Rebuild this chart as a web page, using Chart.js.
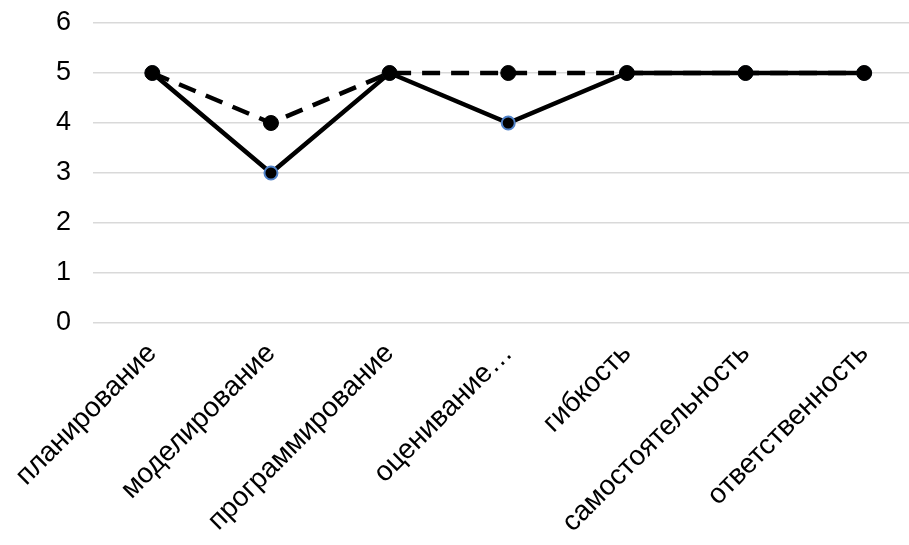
<!DOCTYPE html>
<html>
<head>
<meta charset="utf-8">
<script src="https://cdn.jsdelivr.net/npm/chart.js@4"></script>
<style>
html,body{margin:0;padding:0;background:#fff;overflow:hidden;}
#wrap{width:932px;height:545px;position:relative;}
</style>
</head>
<body>
<div id="wrap"><canvas id="c"></canvas></div>
<script>
const categories = ["планирование","моделирование","программирование","оценивание…","гибкость","самостоятельность","ответственность"];
const solidSeries = [5,3,5,4,5,5,5];
const dashedSeries = [5,4,5,5,5,5,5];
const yTicks = [0,1,2,3,4,5,6];

const FONT = "'Liberation Sans', Arial, sans-serif";

new Chart(document.getElementById('c'), {
  type: 'line',
  data: {
    labels: categories,
    datasets: [
      {
        label: 'B',
        data: dashedSeries,
        borderColor: '#000',
        borderWidth: 4.5,
        borderDash: [18, 11],
        pointRadius: 7.5,
        pointBackgroundColor: '#000',
        pointBorderColor: '#000',
        pointBorderWidth: 1,
        tension: 0,
        fill: false
      },
      {
        label: 'A',
        data: solidSeries,
        borderColor: '#000',
        borderWidth: 4.5,
        pointRadius: 6.5,
        pointBackgroundColor: '#000',
        pointBorderColor: '#4F81C8',
        pointBorderWidth: 2,
        tension: 0,
        fill: false
      }
    ]
  },
  options: {
    responsive: true,
    maintainAspectRatio: false,
    animation: false,
    devicePixelRatio: 1,
    layout: { padding: { top: 23, right: 0, left: 0, bottom: 0 } },
    plugins: { legend: { display: false }, tooltip: { enabled: false } },
    scales: {
      x: {
        offset: true,
        grid: { display: false, drawTicks: false },
        border: { display: false },
        ticks: {
          color: '#000',
          font: { family: FONT, size: 28 },
          minRotation: 45,
          maxRotation: 45,
          autoSkip: false,
          padding: 14
        },
        afterFit: (s) => { s.height = 222; }
      },
      y: {
        min: 0,
        max: 6,
        afterBuildTicks: (s) => { s.ticks = yTicks.map(v => ({ value: v })); },
        grid: { color: '#d9d9d9', lineWidth: 1.5, drawTicks: false },
        border: { display: false },
        ticks: {
          color: '#000',
          font: { family: FONT, size: 27 },
          padding: 22
        },
        afterFit: (s) => { s.width = 93; s.paddingTop = 0; s.paddingBottom = 0; }
      }
    }
  }
});
</script>
</body>
</html>
